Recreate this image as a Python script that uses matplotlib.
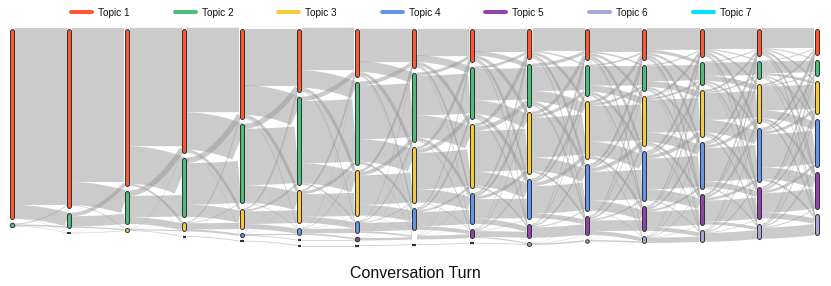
import numpy as np
import matplotlib
matplotlib.use("Agg")
import matplotlib.pyplot as plt
from matplotlib.lines import Line2D

plt.rcParams['font.family'] = ['Liberation Sans', 'DejaVu Sans']

# ---------------- data ----------------
topics = ["Topic 1", "Topic 2", "Topic 3", "Topic 4", "Topic 5", "Topic 6", "Topic 7"]
topic_colors = ["#FF5733", "#4DBE7A", "#F7CA3A", "#6495ED", "#8E44AD", "#A8A8D4", "#00E1FF"]
turns = list(range(1, 16))

# share of conversations per turn and topic (0 = topic not present at that turn)
topic1 = [191, 180, 158, 125, 91, 64, 49, 40, 34, 31, 32, 32, 29, 28, 27]
topic2 = [3, 15.5, 33.5, 59.5, 80, 88.5, 83.5, 69.5, 52.5, 43.5, 31.5, 26.5, 23.5, 18.5, 16.5]
topic3 = [0, 0.8, 2.5, 10, 21, 33.5, 46.5, 56.5, 64.5, 62.5, 58.5, 50.5, 47.5, 39.5, 33.5]
topic4 = [0, 0, 0, 1, 2.5, 7.5, 12.5, 22.5, 31.5, 40.5, 47.5, 50.5, 47.5, 54.5, 48.5]
topic5 = [0, 0, 0, 0, 1, 1, 3, 5, 9.5, 14.5, 19.5, 25.5, 31.5, 32.5, 37.5]
topic6 = [0, 0, 0, 0, 0, 1, 1, 1, 1, 2.5, 2, 7.5, 12.5, 15.5, 21.5]
topic7 = [0] * 15

# estimated share of each turn transition that switches between topics freely
mix_share = [0.35, 0.3, 0.25, 0.2, 0.2, 0.2, 0.22, 0.25, 0.3, 0.3, 0.3, 0.3, 0.3, 0.3]

values = np.array([topic1, topic2, topic3, topic4, topic5, topic6, topic7], dtype=float)

# ---------------- figure ----------------
W, H, DPI = 831, 286, 100
fig = plt.figure(figsize=(W / DPI, H / DPI), dpi=DPI)
ax = fig.add_axes([0, 0, 1, 1])
x_left_px, col_px = 12.0, 57.5
top_px = 28.0
ax.set_xlim(-x_left_px / col_px, (W - x_left_px) / col_px)
ax.set_ylim(H - top_px, -top_px)
ax.axis("off")

PT = 72.0 / DPI          # points per pixel
pad = 4.5                # gap between nodes (px)
node_w = 5.0 / col_px    # node width in column units

# layout of nodes
n_turns = len(turns)
nodes = []  # per column: dict topic -> (y0, y1)
for c in range(n_turns):
    y = 0.0
    d = {}
    for k in range(len(topics)):
        v = values[k, c]
        if v > 0:
            d[k] = (y, y + v)
            y = y + v + pad
    nodes.append(d)

# links
t = np.linspace(0, 1, 60)
s = 3 * t ** 2 - 2 * t ** 3
for c in range(n_turns - 1):
    src = sorted(nodes[c].keys())
    tgt = sorted(nodes[c + 1].keys())
    sv = np.array([values[k, c] for k in src])
    tv = np.array([values[j, c + 1] for j in tgt])
    S, S2 = sv.sum(), tv.sum()
    T = min(S, S2)
    p, q = sv / S, tv / S2
    P = np.concatenate([[0], np.cumsum(p)])
    Q = np.concatenate([[0], np.cumsum(q)])
    nw = np.zeros((len(src), len(tgt)))
    for a in range(len(src)):
        for b in range(len(tgt)):
            nw[a, b] = max(0.0, min(P[a + 1], Q[b + 1]) - max(P[a], Q[b]))
    m = mix_share[c]
    F = T * ((1 - m) * nw + m * np.outer(p, q))

    src_off = {k: nodes[c][k][0] for k in src}
    tgt_off = {j: nodes[c + 1][j][0] for j in tgt}
    ys_rng = {}
    for a, k in enumerate(src):
        for b, j in enumerate(tgt):
            w = F[a, b]
            ys_rng[(a, b)] = (src_off[k], src_off[k] + w)
            src_off[k] += w
    yt_rng = {}
    for b, j in enumerate(tgt):
        for a, k in enumerate(src):
            w = F[a, b]
            yt_rng[(a, b)] = (tgt_off[j], tgt_off[j] + w)
            tgt_off[j] += w
    x0 = c + node_w / 2
    x1 = c + 1 - node_w / 2
    xs = x0 + (x1 - x0) * (1.5 * t * (1 - t) + t ** 3 + 1.5 * t ** 2 * (1 - t))
    for a in range(len(src)):
        for b in range(len(tgt)):
            w = F[a, b]
            if w < 0.15:
                continue
            y0 = sum(ys_rng[(a, b)]) / 2
            y1 = sum(yt_rng[(a, b)]) / 2
            ys = y0 + (y1 - y0) * s
            ax.plot(xs, ys, color="#999999", alpha=0.5, lw=w * PT,
                    solid_capstyle="butt", zorder=1)

# nodes
for c in range(n_turns):
    for k, (y0, y1) in nodes[c].items():
        h = y1 - y0
        col = topic_colors[k]
        if h >= 5:
            ax.plot([c, c], [y0 + 2.5, y1 - 2.5], color="#333333", lw=5 * PT,
                    solid_capstyle="round", zorder=3)
            ax.plot([c, c], [y0 + 2.5, y1 - 2.5], color=col, lw=3 * PT,
                    solid_capstyle="round", zorder=4)
        elif h >= 2:
            ax.plot([c], [(y0 + y1) / 2], marker="o", ms=(h + 1.5) * PT,
                    mfc=col, mec="#333333", mew=1 * PT, zorder=4)
        else:
            ax.plot([c - 2 / col_px, c + 2 / col_px], [(y0 + y1) / 2] * 2,
                    color="#333333", lw=(h + 1.2) * PT, solid_capstyle="butt", zorder=4)

# legend
handles = [Line2D([0], [0], color=topic_colors[i], lw=4 * PT, solid_capstyle="round")
           for i in range(len(topics))]
fs = 7.2
fig.legend(handles, topics, loc="center", bbox_to_anchor=(411 / W, 1 - 12.5 / H),
           ncol=7, frameon=False, fontsize=fs, handlelength=2.1,
           handletextpad=0.6, columnspacing=4.5, borderpad=0, borderaxespad=0,
           labelcolor="#111111")

fig.text(415.5 / W, 1 - 278 / H, "Conversation Turn", ha="center", va="baseline",
         fontsize=11.5, color="#111111")

fig.savefig("out.png", dpi=DPI)
